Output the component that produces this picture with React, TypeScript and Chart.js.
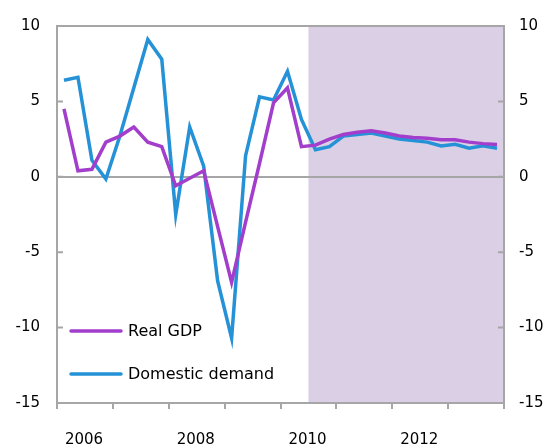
import React, { useEffect, useRef } from "react";
import { Chart, registerables } from "chart.js";

Chart.register(...registerables);

const quarters = [
  "2006Q1", "2006Q2", "2006Q3", "2006Q4",
  "2007Q1", "2007Q2", "2007Q3", "2007Q4",
  "2008Q1", "2008Q2", "2008Q3", "2008Q4",
  "2009Q1", "2009Q2", "2009Q3", "2009Q4",
  "2010Q1", "2010Q2", "2010Q3", "2010Q4",
  "2011Q1", "2011Q2", "2011Q3", "2011Q4",
  "2012Q1", "2012Q2", "2012Q3", "2012Q4",
  "2013Q1", "2013Q2", "2013Q3", "2013Q4",
];

const realGDP = [
  4.5, 0.4, 0.5, 2.3, 2.7, 3.3, 2.3, 2.0,
  -0.6, -0.1, 0.4, -3.3, -7.0, -3.0, 0.9, 4.9,
  5.9, 2.0, 2.1, 2.5, 2.8, 2.95, 3.05, 2.9,
  2.7, 2.6, 2.55, 2.45, 2.45, 2.3, 2.2, 2.15,
];

const domesticDemand = [
  6.4, 6.6, 1.1, -0.15, 2.7, 5.9, 9.1, 7.8,
  -2.5, 3.3, 0.7, -6.9, -10.7, 1.4, 5.3, 5.1,
  7.0, 3.8, 1.8, 2.0, 2.7, 2.8, 2.9, 2.7,
  2.5, 2.4, 2.3, 2.05, 2.15, 1.9, 2.05, 1.9,
];

const seriesLabels = ["Real GDP", "Domestic demand"];
const seriesColors = ["#a23ecb", "#2592d8"];
const yearLabels = [2006, 2008, 2010, 2012];
const yTicks = [-15, -10, -5, 0, 5, 10];
const forecastStart = "2010Q3";
const xMinYear = 2006;
const xMaxYear = 2014;

const FONT = "'DejaVu Sans', 'Liberation Sans', Arial, sans-serif";
const AXIS_GRAY = "#a6a6a6";
const SHADE = "#dacfe5";

// quarter label -> start-of-quarter position in fractional years
const quarterStart = (q: string) => {
  const y = parseInt(q.slice(0, 4), 10);
  const n = parseInt(q.slice(5), 10);
  return y + (n - 1) / 4;
};
// quarter label -> mid-quarter position
const quarterMid = (q: string) => quarterStart(q) + 0.125;

const toPoints = (vals: number[]) =>
  quarters.map((q, i) => ({ x: quarterMid(q), y: vals[i] }));

const decorPlugin = {
  id: "decor",
  beforeDraw(chart: any) {
    const { ctx, chartArea, scales } = chart;
    const x0 = scales.x.getPixelForValue(quarterStart(forecastStart));
    ctx.save();
    ctx.fillStyle = SHADE;
    ctx.fillRect(x0, chartArea.top, chartArea.right - x0, chartArea.bottom - chartArea.top);
    ctx.restore();
  },
  beforeDatasetsDraw(chart: any) {
    const { ctx, chartArea, scales } = chart;
    ctx.save();
    ctx.strokeStyle = AXIS_GRAY;
    ctx.lineWidth = 2;
    // top frame line
    ctx.beginPath();
    ctx.moveTo(chartArea.left - 1, chartArea.top);
    ctx.lineTo(chartArea.right + 1, chartArea.top);
    ctx.stroke();
    // inward tick marks on both y axes
    yTicks.forEach((v) => {
      const y = scales.y.getPixelForValue(v);
      ctx.beginPath();
      ctx.moveTo(chartArea.left, y);
      ctx.lineTo(chartArea.left + 6, y);
      ctx.moveTo(chartArea.right, y);
      ctx.lineTo(chartArea.right - 6, y);
      ctx.stroke();
    });
    ctx.restore();
  },
  afterDraw(chart: any) {
    const { ctx } = chart;
    ctx.save();
    chart.data.datasets.forEach((ds: any, i: number) => {
      const y = 331 + i * 43;
      ctx.strokeStyle = ds.borderColor;
      ctx.lineWidth = 3.5;
      ctx.lineCap = "round";
      ctx.beginPath();
      ctx.moveTo(71, y);
      ctx.lineTo(121, y);
      ctx.stroke();
      ctx.fillStyle = "#000";
      ctx.font = `16px ${FONT}`;
      ctx.textBaseline = "middle";
      ctx.textAlign = "left";
      ctx.fillText(ds.label, 128, y + 1);
    });
    ctx.restore();
  },
};

export default function App() {
  const ref = useRef<HTMLCanvasElement | null>(null);

  useEffect(() => {
    if (!ref.current) return;
    const chart = new Chart(ref.current, {
      type: "line",
      data: {
        datasets: [
          {
            label: seriesLabels[0],
            data: toPoints(realGDP),
            borderColor: seriesColors[0],
            backgroundColor: seriesColors[0],
            borderWidth: 3.5,
            pointRadius: 0,
            tension: 0,
            yAxisID: "y",
          },
          {
            label: seriesLabels[1],
            data: toPoints(domesticDemand),
            borderColor: seriesColors[1],
            backgroundColor: seriesColors[1],
            borderWidth: 3.5,
            pointRadius: 0,
            tension: 0,
            yAxisID: "y",
          },
        ],
      },
      options: {
        responsive: false,
        animation: false,
        layout: { padding: { top: 16, left: 0, right: 0, bottom: 0 } },
        plugins: {
          legend: { display: false },
          tooltip: { enabled: false },
        },
        scales: {
          x: {
            type: "linear",
            min: xMinYear,
            max: xMaxYear,
            afterFit: (s: any) => {
              s.height = 44;
            },
            afterBuildTicks: (s: any) => {
              const t = [];
              for (let y = xMinYear; y <= xMaxYear; y++) t.push({ value: y });
              s.ticks = t;
            },
            ticks: {
              autoSkip: false,
              maxRotation: 0,
              minRotation: 0,
              labelOffset: 27,
              padding: 22,
              color: "#000",
              font: { family: FONT, size: 15 },
              callback: (v: any) => (yearLabels.includes(Number(v)) ? String(v) : ""),
            },
            grid: {
              drawOnChartArea: false,
              drawTicks: true,
              tickLength: 6,
              color: AXIS_GRAY,
              lineWidth: 2,
            },
            border: { display: true, color: AXIS_GRAY, width: 2 },
          },
          y: {
            type: "linear",
            position: "left",
            min: -15,
            max: 10,
            afterFit: (s: any) => {
              s.width = 57;
            },
            afterBuildTicks: (s: any) => {
              s.ticks = yTicks.map((v) => ({ value: v }));
            },
            ticks: {
              padding: 17,
              color: "#000",
              font: { family: FONT, size: 15 },
            },
            grid: {
              drawTicks: false,
              color: (c: any) => (c.tick && c.tick.value === 0 ? AXIS_GRAY : "rgba(0,0,0,0)"),
              lineWidth: 2,
            },
            border: { display: true, color: AXIS_GRAY, width: 2 },
          },
          y2: {
            type: "linear",
            position: "right",
            min: -15,
            max: 10,
            afterFit: (s: any) => {
              s.width = 48;
            },
            afterBuildTicks: (s: any) => {
              s.ticks = yTicks.map((v) => ({ value: v }));
            },
            ticks: {
              padding: 15,
              color: "#000",
              font: { family: FONT, size: 15 },
            },
            grid: { drawOnChartArea: false, drawTicks: false },
            border: { display: true, color: AXIS_GRAY, width: 2 },
          },
        },
      },
      plugins: [decorPlugin],
    } as any);
    return () => chart.destroy();
  }, []);

  return (
    <div
      style={{
        position: "fixed",
        left: 0,
        top: 0,
        width: 552,
        height: 447,
        background: "#fff",
      }}
    >
      <canvas ref={ref} width={552} height={447} style={{ display: "block" }} />
    </div>
  );
}
